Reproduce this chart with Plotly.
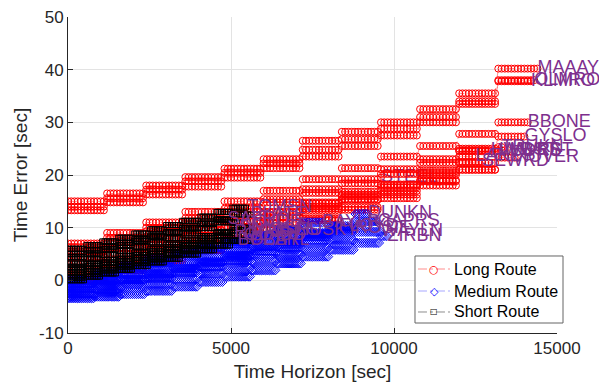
import plotly.graph_objects as go

# ---------------- data ----------------
# Long route flights: plateau levels of time error [sec], each held for LONG_STEP sec
LONG_NAMES = ["MAAAY", "OLMRO", "KLMRO", "BBONE", "GYSLO", "VWRST", "XOVER",
              "HWRST", "VUDRS", "LAKEY", "TRUKN", "SEWRD"]
LONG_END = [14400, 14300, 14200, 14100, 14000, 13500, 13740,
            12970, 13200, 12500, 13300, 12700]
LONG_LEVELS = [
    [15, 16.5, 18, 19.6, 21.2, 23, 26.5, 28.2, 30, 32.5, 35.5, 40.2],
    [13.3, 14.8, 16.3, 17.8, 19.5, 21.3, 23.5, 25.5, 27.5, 30, 33.5, 38],
    [14, 15.6, 17.2, 18.8, 20.4, 22.2, 24.8, 26.8, 28.8, 31, 34, 37.8],
    [7, 9, 11, 13, 15, 17, 19.2, 21.3, 23.5, 25.5, 27.8, 30],
    [6.3, 8.1, 10, 11.8, 13.6, 15.4, 17.3, 19.2, 21.1, 23, 25, 27.3],
    [4.4, 6.1, 7.8, 9.5, 11.2, 12.9, 14.6, 16.3, 18.1, 20, 22.3, 24.7],
    [3.2, 5, 6.8, 8.5, 10.2, 11.9, 13.6, 15.3, 17, 18.8, 21, 23.3],
    [5.5, 7.4, 9.3, 11.2, 13, 14.8, 16.6, 18.4, 20.2, 22.3, 24.7],
    [2, 4, 6, 8, 10, 12, 14, 16, 18.2, 20.8, 24.5],
    [1, 3, 5, 7, 9, 11, 13.2, 15.4, 17.7, 20.4, 23.5],
    [0.5, 2.3, 4.1, 5.9, 7.7, 9.5, 11.4, 13.4, 15.6, 18, 21, 25.3],
    [0, 1.9, 3.8, 5.7, 7.6, 9.6, 11.7, 13.9, 16.3, 19, 22.5],
]
# one long-route flight ends early; its label is partly hidden by later markers
EARLY_NAMES = ["STEEL"]
EARLY_END = [9600]
EARLY_LEVELS = [[4.5, 6.2, 7.9, 9.6, 11.3, 13, 14.8, 16.8, 19.5]]
LONG_STEP = 1200
LONG_DT = 100

# Medium route flights
MED_NAMES = ["ZIRBN", "WAYLN", "CAPRS", "DUNKN", "ROSIE", "FLOYD", "BAYLR", "HUSKY"]
MED_END = [9800, 9600, 9500, 9200, 8800, 8300, 7800, 7000]
MED_LEVELS = [
    [-3.4, -3.1, -2.6, -2, -1.2, -0.3, 0.7, 1.9, 3.2, 4.5, 5.8, 7.1, 8.4],
    [-3, -2.4, -1.6, -0.7, 0.3, 1.3, 2.4, 3.6, 4.9, 6.2, 7.6, 9.2],
    [-2.5, -1.7, -0.7, 0.4, 1.5, 2.6, 3.8, 5, 6.3, 7.7, 9.3, 11.2],
    [-2, -1, 0.1, 1.2, 2.3, 3.5, 4.7, 6, 7.4, 8.8, 10.3, 12.6],
    [-1.5, -0.7, 0.2, 1.2, 2.2, 3.3, 4.4, 5.6, 6.9, 8.3, 9.8],
    [-1, 0, 1.1, 2.2, 3.3, 4.4, 5.5, 6.6, 7.8, 9, 10.2],
    [-0.5, 0.8, 2.1, 3.4, 4.6, 5.8, 7, 8.3, 9.6, 11],
    [0, 1.3, 2.6, 3.9, 5.1, 6.3, 7.4, 8.5, 9.5],
]
MED_STEP = 800
MED_DT = 60

# Short route flights
SHORT_NAMES = ["TOMSN", "SLATE", "KOLDE", "DYLEN", "RIVRS",
               "MOSES", "GLADD", "BOBBY", "PEARL", "SAFRO"]
SHORT_END = [5500, 5600, 5300, 5600, 5100, 5700, 5400, 5200, 5600, 4900]
SHORT_LEVELS = [
    [6, 6.7, 7.4, 8.1, 8.9, 9.7, 10.5, 11.3, 12.1, 13, 13.8],
    [4.4, 5.1, 5.9, 6.7, 7.5, 8.3, 9.1, 9.9, 10.7, 11.6, 12.5],
    [3.2, 4, 4.8, 5.6, 6.4, 7.2, 8, 8.9, 9.9, 11],
    [2.5, 3.2, 3.9, 4.6, 5.3, 6, 6.8, 7.6, 8.4, 9.2, 10],
    [2, 2.7, 3.4, 4.1, 4.8, 5.5, 6.3, 7.1, 8, 9],
    [1.5, 2.2, 2.9, 3.6, 4.3, 5, 5.8, 6.6, 7.5, 8.5, 9.5],
    [1, 1.7, 2.4, 3.1, 3.8, 4.5, 5.2, 6, 6.8, 7.6, 8.5],
    [0.5, 1.2, 1.9, 2.6, 3.3, 4, 4.8, 5.6, 6.5, 7.5],
    [0, 0.7, 1.3, 2, 2.7, 3.4, 4.1, 4.9, 5.7, 6.6, 7.5],
    [5, 5.7, 6.4, 7.1, 7.8, 8.5, 9.2, 10, 10.8, 11.5],
]
SHORT_STEP = 500
SHORT_DT = 70

X_TICKS = [0, 5000, 10000, 15000]
Y_TICKS = [-10, 0, 10, 20, 30, 40, 50]
LEGEND_LABELS = ["Long Route", "Medium Route", "Short Route"]


def route_points(levels_list, ends, step, dt):
    xs, ys, lx, ly = [], [], [], []
    for levels, end_t in zip(levels_list, ends):
        t = 0
        while t <= end_t:
            k = min(t // step, len(levels) - 1)
            xs.append(t)
            ys.append(levels[k])
            t += dt
        xs.append(None)
        ys.append(None)
        lx.append(end_t)
        ly.append(levels[-1])
    return xs, ys, lx, ly


FONT = "Liberation Sans, Arial, sans-serif"
TXT = "#262626"
PURPLE = "rgb(126,47,142)"


def label_trace(lx, ly, names):
    return go.Scatter(
        x=lx, y=ly, mode="text", text=names, textposition="middle right",
        textfont=dict(family=FONT, size=18, color=PURPLE),
        showlegend=False, cliponaxis=False, hoverinfo="skip",
    )


def marker_trace(xs, ys, mcol, lcol, sym, msz):
    return go.Scatter(
        x=xs, y=ys, mode="lines+markers", showlegend=False,
        line=dict(color=lcol, width=1, dash="dashdot"),
        marker=dict(symbol=sym, size=msz, color=mcol, line=dict(width=1, color=mcol)),
    )


STYLE = {
    "long": ("red", "rgba(255,0,0,0.45)", "circle-open", 7, "\u25CB", 11),
    "med": ("blue", "rgba(0,0,255,0.35)", "diamond-open", 7, "\u25C7", 11),
    "short": ("black", "rgba(0,0,0,0.45)", "square-open", 5, "\u25A1", 8),
}

fig = go.Figure()

# early-ending long flight (its label sits under the other markers)
ex, ey, elx, ely = route_points(EARLY_LEVELS, EARLY_END, LONG_STEP, LONG_DT)
fig.add_trace(marker_trace(ex, ey, *STYLE["long"][:4]))
fig.add_trace(label_trace(elx, ely, EARLY_NAMES))

labels = []
for key, lev, ends, step, dt, names in [
    ("long", LONG_LEVELS, LONG_END, LONG_STEP, LONG_DT, LONG_NAMES),
    ("med", MED_LEVELS, MED_END, MED_STEP, MED_DT, MED_NAMES),
    ("short", SHORT_LEVELS, SHORT_END, SHORT_STEP, SHORT_DT, SHORT_NAMES),
]:
    xs, ys, lx, ly = route_points(lev, ends, step, dt)
    fig.add_trace(marker_trace(xs, ys, *STYLE[key][:4]))
    labels.append((lx, ly, names))

for lx, ly, names in labels:
    fig.add_trace(label_trace(lx, ly, names))

# ---- legend drawn by hand (paper coordinates of the plot area) ----
shapes = [dict(type="rect", xref="paper", yref="paper",
               x0=0.7096, x1=1.0123, y0=0.0316, y1=0.2437,
               line=dict(color="rgb(100,100,100)", width=1), fillcolor="white", layer="above")]
annotations = []
row_y = [0.2025, 0.1329, 0.0665]
for key, lab, yy in zip(["long", "med", "short"], LEGEND_LABELS, row_y):
    mcol, lcol, sym, msz, glyph, gsz = STYLE[key]
    shapes.append(dict(type="line", xref="paper", yref="paper",
                       x0=0.7157, x1=0.7812, y0=yy, y1=yy,
                       line=dict(color=lcol, width=1, dash="dashdot"), layer="above"))
    annotations.append(dict(xref="paper", yref="paper", x=0.7485, y=yy, text=glyph,
                            showarrow=False, xanchor="center", yanchor="middle",
                            font=dict(family="DejaVu Sans", size=gsz, color=mcol)))
    annotations.append(dict(xref="paper", yref="paper", x=0.7853, y=yy, text=lab,
                            showarrow=False, xanchor="left", yanchor="middle",
                            font=dict(family=FONT, size=16, color="black")))

fig.update_layout(
    width=599, height=388,
    margin=dict(l=68, r=42, t=17, b=55, autoexpand=False),
    paper_bgcolor="white", plot_bgcolor="white",
    font=dict(family=FONT, color=TXT, size=17),
    showlegend=False,
    shapes=shapes, annotations=annotations,
)
fig.update_xaxes(
    range=[0, 15000], tickvals=X_TICKS, ticktext=[str(v) for v in X_TICKS],
    showgrid=True, gridcolor="#e3e3e3", gridwidth=1, zeroline=False,
    showline=True, linecolor=TXT, linewidth=1, automargin=False,
    ticks="inside", ticklen=5, tickcolor=TXT,
    tickfont=dict(family=FONT, size=17, color=TXT),
    title=dict(text="Time Horizon [sec]", font=dict(family=FONT, size=19, color=TXT), standoff=7),
)
fig.update_yaxes(
    range=[-10, 50], tickvals=Y_TICKS, ticktext=[str(v) for v in Y_TICKS],
    showgrid=True, gridcolor="#e3e3e3", gridwidth=1, zeroline=False,
    showline=True, linecolor=TXT, linewidth=1, automargin=False,
    ticks="inside", ticklen=5, tickcolor=TXT,
    tickfont=dict(family=FONT, size=17, color=TXT),
    title=dict(text="Time Error [sec]", font=dict(family=FONT, size=19, color=TXT), standoff=6),
)

fig.write_html("out.html")
